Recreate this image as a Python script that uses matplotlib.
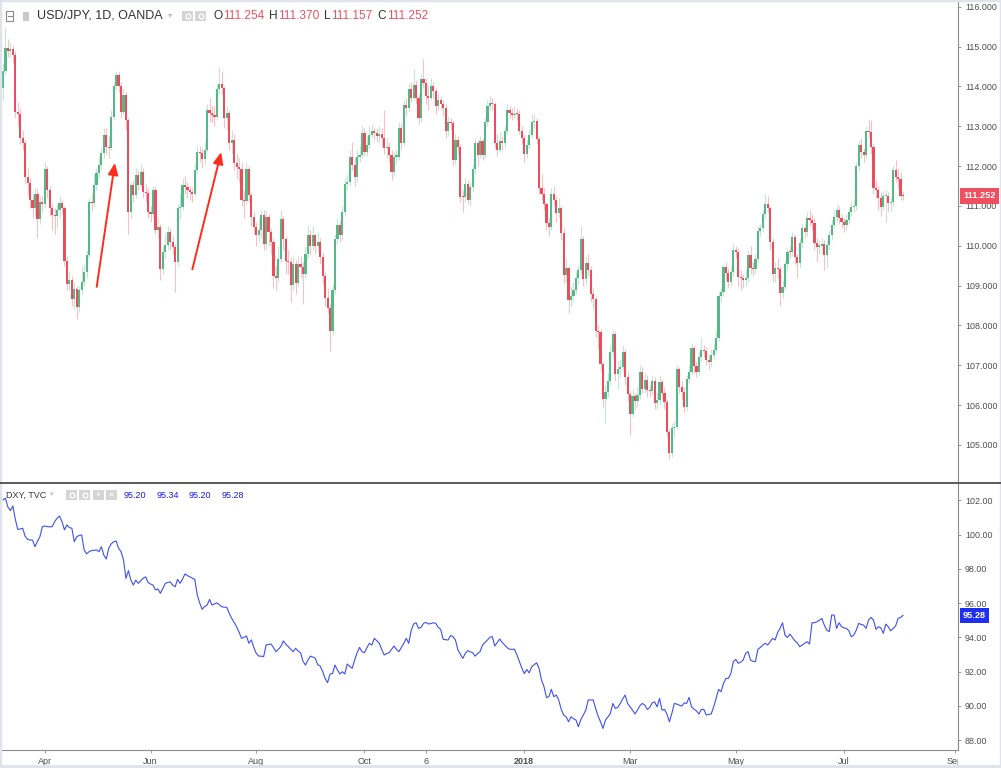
import numpy as np
import pandas as pd
import matplotlib
matplotlib.use('Agg')
import matplotlib.pyplot as plt
from matplotlib.patches import Rectangle
from matplotlib.lines import Line2D
from matplotlib.transforms import Bbox, TransformedBbox, blended_transform_factory

plt.rcParams['font.family'] = ['Liberation Sans', 'DejaVu Sans']

# ---- data (daily bars, 2017-03-09 .. 2018-08-03) ----
dates = pd.bdate_range('2017-03-09', '2018-08-03')

first_open = 113.96
usdjpy_close = [
    # Mar - May 2017
    114.38, 114.97, 114.90, 114.95, 114.78, 113.37, 113.30, 112.70, 112.57, 111.73,
    111.57, 111.15, 110.94, 111.31, 110.68, 111.10, 111.05, 111.94, 111.40, 110.94,
    110.77, 110.74, 110.89, 111.08, 110.94, 109.63, 109.05, 109.13, 108.67, 108.92,
    108.46, 108.88, 109.09, 109.34, 109.76, 111.10, 111.08, 111.52, 111.82, 112.03,
    112.32, 112.78, 112.49, 112.45, 113.24, 114.00, 114.29, 114.00, 113.37, 113.79,
    113.16, 110.85, 111.52, 111.27, 111.78, 111.52, 111.86, 111.36, 111.33, 110.85,
    110.81, 111.40, 110.39, 110.47,
    # Jun - Sep 2017
    109.42, 109.84, 110.01, 110.35, 110.10, 109.97, 109.59, 110.94, 110.98, 111.52,
    111.48, 111.40, 111.36, 111.31, 111.90, 112.36, 112.32, 112.17, 112.41, 113.41,
    113.33, 113.29, 113.24, 113.93, 114.06, 113.96, 113.20, 113.33, 112.57, 112.66,
    112.07, 111.99, 111.94, 111.15, 111.13, 111.94, 111.27, 110.73, 110.47, 110.28,
    110.39, 110.77, 110.05, 110.73, 110.35, 110.10, 109.23, 109.20, 109.68, 110.68,
    110.18, 109.62, 109.59, 109.01, 109.55, 109.07, 109.55, 109.47, 109.30, 109.80,
    110.26, 109.99, 110.26, 109.99,
    # Sep - Nov 2017
    110.10, 109.72, 109.25, 108.70, 108.45, 107.85, 108.90, 110.18, 110.52, 110.26,
    110.85, 111.56, 111.60, 112.24, 112.03, 111.73, 112.24, 112.28, 112.83, 112.36,
    112.53, 112.78, 112.87, 112.83, 112.75, 112.80, 112.70, 112.45, 112.48, 112.28,
    111.86, 112.24, 112.24, 112.95, 112.57, 113.54, 113.46, 113.93, 113.71, 114.04,
    113.71, 113.20, 114.19, 114.09, 113.75, 113.71, 114.02, 113.88, 113.50, 113.65,
    113.55, 113.46, 112.87, 113.10, 113.08, 112.15, 112.66, 112.48, 111.23, 111.22,
    111.56, 111.14, 111.48,
    # Nov 2017 - Feb 2018
    111.94, 112.57, 112.28, 112.62, 112.28, 113.10, 113.51, 113.58, 113.56, 112.57,
    112.41, 112.64, 112.57, 112.89, 113.40, 113.33, 113.29, 113.32, 113.30, 112.89,
    112.70, 112.30, 112.53, 112.77, 113.10, 113.12, 112.67, 111.46, 111.30, 111.06,
    110.56, 110.47, 111.31, 111.15, 110.83, 110.96, 110.32, 109.26, 109.43, 108.63,
    108.75, 108.90, 109.20, 109.38, 110.18, 109.17, 109.57, 109.40, 108.79, 108.66,
    107.87, 107.83, 107.03, 106.15, 106.32, 106.61, 107.33, 107.79, 106.78, 106.90,
    106.95, 107.33, 106.70, 106.28, 105.77, 106.24, 106.10,
    # Mar - Jun 2018
    106.25, 106.84, 106.40, 106.63, 106.38, 106.36, 106.60, 106.05, 106.13, 106.59,
    106.30, 106.09, 105.33, 104.79, 105.42, 105.45, 106.90, 106.46, 106.34, 105.96,
    106.65, 106.82, 107.43, 106.97, 106.84, 107.22, 107.38, 107.35, 107.13, 107.07,
    107.26, 107.38, 107.68, 108.74, 108.85, 109.46, 109.32, 109.10, 109.35, 109.89,
    109.85, 109.22, 109.18, 109.14, 109.18, 109.77, 109.43, 109.42, 109.68, 110.38,
    110.44, 110.80, 111.06, 110.94, 110.10, 109.29, 109.43, 109.42, 108.81, 108.97,
    109.54, 109.85, 109.84, 110.23,
    # Jun - Aug 2018
    109.73, 109.56, 110.06, 110.44, 110.35, 110.69, 110.65, 110.56, 110.06, 109.98,
    110.00, 110.05, 109.77, 110.02, 110.27, 110.52, 110.73, 110.91, 110.69, 110.60,
    110.52, 110.65, 110.85, 110.98, 111.00, 112.00, 112.53, 112.36, 112.27, 112.89,
    112.86, 112.48, 111.44, 111.40, 111.21, 110.98, 111.25, 111.26, 111.08, 111.10,
    111.90, 111.73, 111.67, 111.254, 111.252,
]
usdjpy_high = [
    114.60, 115.50, 115.20, 115.10, 115.05, 114.90, 113.60, 113.45, 112.90, 112.65,
    111.95, 111.70, 111.30, 111.45, 111.45, 111.25, 111.25, 112.10, 112.00, 111.50,
    111.05, 110.95, 111.05, 111.25, 111.15, 111.00, 109.75, 109.35, 109.25, 109.10,
    109.00, 109.00, 109.50, 109.55, 109.90, 111.20, 111.30, 111.80, 111.95, 112.25,
    112.45, 112.95, 112.95, 112.75, 113.40, 114.10, 114.37, 114.35, 114.10, 113.95,
    113.85, 113.20, 111.60, 111.65, 111.95, 111.90, 112.05, 111.95, 111.55, 111.45,
    111.00, 111.50, 111.50, 110.70,
    110.55, 110.00, 110.30, 110.50, 110.45, 110.25, 110.05, 111.05, 111.30, 111.70,
    111.75, 111.60, 111.50, 111.45, 112.05, 112.50, 112.50, 112.45, 112.60, 113.55,
    113.70, 113.50, 113.50, 114.05, 114.50, 114.40, 114.00, 113.50, 113.40, 112.90,
    112.80, 112.30, 112.20, 112.10, 111.40, 112.10, 112.00, 111.35, 110.85, 110.60,
    110.70, 110.90, 110.90, 110.90, 110.80, 110.45, 110.20, 109.50, 110.00, 110.90,
    110.75, 110.25, 109.90, 109.70, 109.75, 109.65, 109.75, 109.75, 109.60, 110.00,
    110.50, 110.40, 110.50, 110.30,
    110.35, 110.20, 109.85, 109.35, 108.95, 108.55, 109.05, 110.30, 110.70, 110.65,
    111.00, 111.70, 111.80, 112.40, 112.60, 112.20, 112.40, 112.50, 113.00, 112.95,
    112.75, 113.00, 113.05, 112.95, 112.95, 113.00, 112.95, 113.40, 112.70, 112.60,
    112.40, 112.35, 112.40, 113.10, 113.05, 113.65, 113.70, 114.05, 114.10, 114.45,
    114.15, 113.80, 114.30, 114.70, 114.20, 114.00, 114.20, 114.10, 113.95, 113.80,
    113.75, 113.65, 113.55, 113.25, 113.20, 113.15, 112.80, 112.75, 112.55, 111.40,
    111.70, 111.65, 111.60,
    112.05, 112.70, 112.65, 112.75, 112.70, 113.20, 113.65, 113.75, 113.70, 113.60,
    112.80, 112.85, 112.75, 113.00, 113.55, 113.50, 113.45, 113.50, 113.45, 113.40,
    113.00, 112.80, 112.65, 112.90, 113.30, 113.30, 113.20, 112.75, 111.80, 111.45,
    111.10, 110.70, 111.45, 111.50, 111.25, 111.20, 111.00, 110.45, 109.70, 109.50,
    109.00, 109.10, 109.35, 109.50, 110.50, 110.25, 109.75, 109.80, 109.50, 108.95,
    108.75, 108.00, 107.90, 107.10, 106.50, 106.80, 107.50, 107.90, 107.85, 107.10,
    107.15, 107.50, 107.40, 106.85, 106.35, 106.40, 106.30,
    106.45, 107.00, 106.95, 106.80, 106.75, 106.50, 106.75, 106.70, 106.30, 106.75,
    106.65, 106.45, 106.15, 105.40, 105.55, 105.60, 107.00, 106.95, 106.60, 106.45,
    106.75, 107.00, 107.55, 107.50, 107.10, 107.35, 107.70, 107.50, 107.45, 107.25,
    107.40, 107.55, 107.85, 108.85, 108.95, 109.55, 109.60, 109.45, 109.50, 110.05,
    110.00, 109.95, 109.40, 109.30, 109.40, 109.90, 110.00, 109.60, 109.80, 110.50,
    110.55, 110.90, 111.30, 111.25, 111.00, 110.20, 109.60, 109.70, 109.50, 109.15,
    109.65, 109.95, 110.00, 110.35,
    110.30, 109.80, 110.20, 110.55, 110.55, 110.85, 110.90, 110.80, 110.70, 110.20,
    110.15, 110.20, 110.15, 110.15, 110.40, 110.65, 110.90, 111.05, 111.00, 110.80,
    110.70, 110.80, 110.95, 111.10, 111.15, 112.10, 112.65, 112.70, 112.45, 113.00,
    113.15, 113.15, 112.55, 111.65, 111.50, 111.35, 111.40, 111.40, 111.35, 111.20,
    112.00, 112.15, 111.95, 111.85, 111.370,
]
usdjpy_low = [
    113.65, 114.30, 114.75, 114.75, 114.60, 113.20, 113.00, 112.55, 112.40, 111.55,
    111.30, 110.95, 110.70, 110.75, 110.20, 110.55, 110.85, 110.95, 111.20, 110.75,
    110.40, 110.30, 110.45, 110.70, 110.80, 109.50, 108.90, 108.90, 108.50, 108.40,
    108.15, 108.35, 108.80, 109.00, 109.20, 109.70, 110.90, 111.00, 111.40, 111.70,
    111.90, 112.20, 112.30, 112.20, 112.40, 113.15, 113.90, 113.85, 113.20, 113.30,
    112.90, 110.30, 110.70, 111.10, 111.20, 111.40, 111.45, 111.20, 111.10, 110.70,
    110.60, 110.70, 110.30, 110.20,
    109.15, 109.30, 109.70, 109.90, 109.90, 109.80, 108.85, 109.50, 110.70, 110.90,
    111.30, 111.20, 111.15, 111.10, 111.25, 111.80, 112.10, 111.95, 112.05, 112.35,
    113.10, 113.10, 113.00, 113.15, 113.80, 113.80, 112.95, 112.90, 112.40, 112.30,
    111.90, 111.70, 111.60, 111.00, 110.70, 111.05, 111.10, 110.50, 110.30, 110.00,
    110.10, 110.20, 109.90, 109.90, 110.00, 109.80, 108.95, 108.90, 109.10, 109.60,
    109.90, 109.30, 109.30, 108.60, 108.90, 108.80, 109.00, 109.20, 108.55, 109.20,
    109.70, 109.80, 109.90, 109.80,
    109.85, 109.55, 109.05, 108.50, 108.30, 107.35, 107.75, 108.80, 110.05, 110.10,
    110.15, 110.75, 111.40, 111.50, 111.90, 111.50, 111.60, 112.10, 112.20, 112.25,
    112.25, 112.45, 112.70, 112.65, 112.60, 112.60, 112.50, 112.30, 112.20, 112.10,
    111.65, 111.75, 112.05, 112.15, 112.40, 112.50, 113.25, 113.35, 113.60, 113.65,
    113.55, 113.05, 113.10, 113.95, 113.55, 113.40, 113.65, 113.70, 113.30, 113.40,
    113.40, 113.25, 112.70, 112.75, 112.90, 112.00, 112.05, 112.30, 111.10, 110.85,
    111.10, 111.05, 111.00,
    111.35, 111.80, 112.00, 112.20, 112.15, 112.20, 113.00, 113.40, 113.40, 112.45,
    112.25, 112.35, 112.40, 112.45, 112.80, 113.20, 113.15, 113.20, 113.15, 112.80,
    112.55, 112.10, 112.20, 112.45, 112.70, 112.95, 112.55, 111.30, 111.15, 110.90,
    110.40, 110.25, 110.40, 111.00, 110.60, 110.70, 110.15, 109.05, 109.10, 108.30,
    108.50, 108.60, 108.80, 109.05, 109.30, 109.00, 109.05, 109.25, 108.60, 108.45,
    107.70, 107.40, 106.85, 105.95, 105.55, 106.20, 106.50, 107.20, 106.60, 106.40,
    106.70, 106.85, 106.50, 106.10, 105.25, 105.70, 105.90,
    105.95, 106.15, 106.30, 106.30, 106.20, 106.20, 106.25, 105.90, 105.90, 106.00,
    106.15, 105.90, 105.20, 104.64, 104.70, 105.20, 105.40, 106.30, 106.15, 105.80,
    105.85, 106.55, 106.75, 106.80, 106.70, 106.75, 107.10, 107.20, 107.00, 106.90,
    106.95, 107.15, 107.30, 107.60, 108.60, 108.75, 109.15, 108.95, 109.00, 109.25,
    109.70, 109.00, 108.90, 108.95, 109.00, 109.10, 109.30, 109.25, 109.30, 109.60,
    110.25, 110.35, 110.70, 110.85, 109.90, 109.10, 109.10, 109.20, 108.50, 108.70,
    108.90, 109.40, 109.70, 109.75,
    109.55, 109.20, 109.45, 109.95, 110.20, 110.25, 110.50, 110.40, 109.90, 109.60,
    109.80, 109.85, 109.40, 109.45, 109.90, 110.15, 110.45, 110.60, 110.55, 110.45,
    110.35, 110.40, 110.55, 110.75, 110.85, 110.90, 111.90, 112.20, 112.10, 112.20,
    112.70, 112.30, 111.30, 111.20, 110.90, 110.75, 110.90, 110.60, 110.85, 110.85,
    111.00, 111.60, 111.45, 111.15, 111.157,
]

dxy_close = [
    102.02, 102.12, 101.60, 101.40, 101.67, 100.90, 100.30, 100.32, 100.37, 99.90,
    99.72, 99.68, 99.68, 99.29, 99.60, 99.87, 100.45, 100.50, 100.46, 100.45,
    100.46, 100.75, 100.95, 101.08, 100.75, 100.27, 100.56, 100.40, 100.37, 99.58,
    99.87, 99.95, 99.97, 99.10, 98.87, 99.00, 99.06, 99.08, 99.10, 99.00,
    99.29, 98.80, 98.57, 99.20, 99.45, 99.58, 99.62, 99.20, 99.00, 98.52,
    97.44, 97.89, 97.34, 97.05, 97.34, 97.15, 97.30, 97.45, 97.53, 97.20,
    97.11, 97.05, 96.76, 96.82, 96.57, 96.85, 97.15, 97.20, 97.24, 97.05,
    96.95, 97.38, 97.15, 97.40, 97.70, 97.60, 97.53, 97.45, 97.38, 96.47,
    96.00, 95.63, 95.80, 95.88, 96.21, 95.88, 95.95, 96.01, 95.90, 95.78,
    95.76, 95.75, 95.40, 95.11, 94.86, 94.62, 94.30, 93.94, 94.00, 94.08,
    93.65, 93.85, 93.40, 93.06, 92.90, 92.90, 92.87, 93.55, 93.58, 93.61,
    93.40, 93.16, 93.30, 93.46, 93.79, 93.60, 93.46, 93.30, 93.16, 93.36,
    93.20, 93.10, 92.60, 92.38, 92.67, 92.90, 92.85, 92.77, 92.40, 92.32,
    92.00, 91.60, 91.35, 91.86, 91.88, 92.38, 92.09, 91.86, 91.99, 91.86,
    92.44, 92.30, 92.19, 92.67, 93.10, 93.41, 93.16, 93.10, 93.40, 93.65,
    93.55, 93.94, 93.80, 93.65, 93.30, 92.97, 93.05, 93.10, 93.30, 93.49,
    93.30, 93.16, 93.40, 93.65, 93.94, 93.65, 94.40, 94.78, 94.85, 94.52,
    94.58, 94.81, 94.87, 94.78, 94.80, 94.85, 94.81, 94.58, 94.46, 93.88,
    93.86, 93.84, 94.10, 94.04, 93.84, 93.26, 93.02, 92.77, 93.06, 93.22,
    93.15, 93.10, 92.90, 93.05, 93.16, 93.55, 93.70, 93.84, 94.00, 94.04,
    93.49, 93.70, 93.90, 93.70, 93.55, 93.40, 93.30, 93.30, 93.30, 92.97,
    92.58, 92.20, 91.88, 92.12, 91.92, 92.28, 92.40, 92.51, 92.19, 91.50,
    91.12, 90.49, 90.53, 90.96, 90.53, 90.63, 90.34, 89.80, 89.46, 89.36,
    89.07, 89.36, 89.25, 89.17, 88.78, 89.20, 89.46, 89.75, 90.34, 90.34,
    90.34, 89.85, 89.40, 89.07, 88.68, 89.17, 89.35, 89.56, 90.14, 89.85,
    89.90, 90.14, 90.40, 90.63, 90.14, 89.95, 89.75, 89.52, 89.75, 90.00,
    90.14, 90.04, 89.79, 89.90, 90.17, 90.23, 89.94, 90.43, 89.75, 89.79,
    89.52, 89.07, 89.56, 90.14, 90.10, 90.04, 89.98, 90.17, 90.14, 90.49,
    89.94, 89.80, 89.71, 89.52, 89.79, 89.79, 89.46, 89.50, 89.52, 89.94,
    90.43, 90.96, 90.82, 91.31, 91.60, 91.60, 91.89, 92.58, 92.71, 92.48,
    92.55, 92.67, 93.06, 93.16, 92.67, 92.60, 92.58, 93.30, 93.41, 93.55,
    93.65, 93.55, 93.74, 93.94, 93.84, 94.27, 94.52, 94.85, 94.13, 93.99,
    94.19, 93.99, 93.80, 93.68, 93.45, 93.55, 93.65, 93.74, 93.61, 94.85,
    94.85, 94.91, 95.00, 95.10, 94.71, 94.42, 94.33, 95.30, 95.30, 94.52,
    94.85, 94.62, 94.55, 94.52, 94.38, 94.03, 94.13, 94.42, 94.81, 94.75,
    94.71, 94.52, 95.01, 95.16, 95.01, 94.46, 94.62, 94.55, 94.23, 94.77,
    94.62, 94.38, 94.52, 94.66, 95.10, 95.16, 95.28,
]
dxy_header = ['95.20', '95.34', '95.20', '95.28']
usdjpy_header = [('O', '111.254'), ('H', '111.370'), ('L', '111.157'), ('C', '111.252')]

tick_dates = ['2017-04-03', '2017-06-01', '2017-08-01', '2017-10-02', '2017-11-06',
              '2018-01-01', '2018-03-01', '2018-05-01', '2018-07-02', '2018-09-03']
tick_labels = ['Apr', 'Jun', 'Aug', 'Oct', '6', '2018', 'Mar', 'May', 'Jul', 'Sep']

n = len(dates)
assert len(usdjpy_close) == n and len(usdjpy_high) == n and len(usdjpy_low) == n, \
    (n, len(usdjpy_close), len(usdjpy_high), len(usdjpy_low))
assert len(dxy_close) == n, len(dxy_close)

# ---- layout (pixels of the 1001x768 screenshot) ----
W, H = 1001, 768
UP, DOWN = '#53b987', '#eb4d5c'
TXT = '#333333'


def fx(px):
    return px / W


def fy(py):
    return 1 - py / H


fig = plt.figure(figsize=(W / 100, H / 100), dpi=100)
fig.patch.set_facecolor('white')

ax1 = fig.add_axes([0, fy(482), fx(958), 482 / H])
ax2 = fig.add_axes([0, fy(750), fx(958), (750 - 484) / H])

x = np.arange(n)
start = np.datetime64(dates[0].date())
tick_pos = [int(np.busday_count(start, np.datetime64(d))) for d in tick_dates]
xlim = (-3 / 2.459, (958 - 3) / 2.459)

c = np.array(usdjpy_close)
o = np.r_[first_open, c[:-1]]
hi = np.array(usdjpy_high)
lo = np.array(usdjpy_low)
up = c >= o

# candles: faint wicks, solid bodies
wick_cols = [(0.325, 0.725, 0.53, 0.35) if u else (0.92, 0.30, 0.36, 0.35) for u in up]
ax1.vlines(x, lo, hi, colors=wick_cols, linewidth=0.8, zorder=1)
body_h = np.maximum(np.abs(c - o), 0.03)
ax1.bar(x, body_h, bottom=np.minimum(o, c), width=0.88,
        color=np.where(up, UP, DOWN), linewidth=0, zorder=2)

# hand-drawn arrows
for (x0, y0), (x1, y1) in [((38.1, 108.97), (45.5, 112.08)), ((77.0, 109.41), (88.7, 112.35))]:
    ax1.annotate('', xy=(x1, y1), xytext=(x0, y0),
                 arrowprops=dict(arrowstyle='-|>,head_length=0.7,head_width=0.3',
                                 color='#ff2b1c', lw=1.4, shrinkA=0, shrinkB=0))

ax2.plot(x, dxy_close, color='#3f4ff0', lw=0.8)

ax1.set_ylim(104.07, 116.17)
ax2.set_ylim(87.42, 102.95)
ax1.set_yticks(np.arange(105, 117))
ax1.set_yticklabels([f'{v:.3f}' for v in np.arange(105, 117)])
ax2.set_yticks(np.arange(88, 103, 2))
ax2.set_yticklabels([f'{v:.2f}' for v in np.arange(88, 103, 2)])

for ax in (ax1, ax2):
    ax.set_facecolor('white')
    ax.set_xlim(*xlim)
    for s in ('top', 'left', 'bottom'):
        ax.spines[s].set_visible(False)
    ax.spines['right'].set_color('#8c8c8c')
    ax.spines['right'].set_linewidth(0.8)
    ax.yaxis.tick_right()
    ax.tick_params(axis='y', length=2.5, width=0.6, color='#8c8c8c',
                   labelsize=6.4, labelcolor='#4d4d4d', pad=2.5)

ax1.tick_params(axis='x', bottom=False, labelbottom=False)
ax2.spines['bottom'].set_visible(True)
ax2.spines['bottom'].set_color('#8c8c8c')
ax2.spines['bottom'].set_linewidth(0.8)
ax2.set_xticks(tick_pos)
ax2.set_xticklabels(tick_labels)
ax2.tick_params(axis='x', length=2.5, width=0.6, color='#8c8c8c',
                labelsize=6.5, labelcolor='#4d4d4d', pad=2.5)
clip = TransformedBbox(Bbox.from_extents(0, 0, fx(958), 1), fig.transFigure)
for lbl in ax2.get_xticklabels():
    lbl.set_clip_box(clip)
    lbl.set_clip_on(True)
    if lbl.get_text() == '2018':
        lbl.set_fontweight('bold')

# last-value tags on the price scales
tr1 = blended_transform_factory(ax1.transAxes, ax1.transData)
ax1.text(1.0 + 5 / 958, c[-1], f'{c[-1]:.3f}', transform=tr1, ha='left', va='center',
         fontsize=6.6, color='white', fontweight='bold', clip_on=False,
         bbox=dict(boxstyle='square,pad=0.35', fc='#ef5060', ec='none'))
tr2 = blended_transform_factory(ax2.transAxes, ax2.transData)
ax2.text(1.0 + 5 / 958, dxy_close[-1], f'{dxy_close[-1]:.2f}', transform=tr2, ha='left',
         va='center', fontsize=6.6, color='white', fontweight='bold', clip_on=False,
         bbox=dict(boxstyle='square,pad=0.35', fc='#1f2ff0', ec='none'))

# pane separator and outer frame
fig.add_artist(Line2D([0, 1], [fy(483), fy(483)], transform=fig.transFigure,
                      color='#4d4d4d', lw=1.3))
fig.add_artist(Rectangle((0, 0), 1, 1, transform=fig.transFigure, fill=False,
                         ec='#e0e3ea', lw=2.5))
fig.add_artist(Line2D([0, 1], [fy(766), fy(766)], transform=fig.transFigure,
                      color='#e0e3ea', lw=2))

renderer = fig.canvas.get_renderer()


def text_run(items, x0, y, size, gap_after):
    xp = x0
    for s, col, bold in items:
        t = fig.text(fx(xp), fy(y), s, color=col, fontsize=size, va='center', ha='left',
                     fontweight='bold' if bold else 'normal')
        xp += t.get_window_extent(renderer).width + gap_after.get(s, 0)
    return xp


def icon_box(x0, y0, w, h, glyph):
    fig.add_artist(Rectangle((fx(x0), fy(y0 + h)), w / W, h / H, transform=fig.transFigure,
                             fc='#d5d5d5', ec='none'))
    cx, cy = fx(x0 + w / 2), fy(y0 + h / 2)
    if glyph == 'o':
        fig.add_artist(Line2D([cx], [cy], marker='o', ms=3.5, mfc='none', mec='white',
                              mew=0.9, transform=fig.transFigure))
    else:
        fig.text(cx, cy, glyph, color='white', fontsize=6, ha='center', va='center',
                 fontweight='bold')


# header of the main pane
fig.add_artist(Rectangle((fx(6), fy(21)), 7 / W, 10 / H, transform=fig.transFigure,
                         fill=False, ec='#8a8a8a', lw=0.8))
fig.add_artist(Line2D([fx(7.5), fx(11.5)], [fy(16), fy(16)], transform=fig.transFigure,
                      color='#8a8a8a', lw=0.8))
fig.add_artist(Rectangle((fx(23), fy(21)), 6 / W, 9 / H, transform=fig.transFigure,
                         fc='#c9c9c9', ec='none'))
fig.text(fx(37), fy(16), 'USD/JPY, 1D, OANDA', color=TXT, fontsize=9, va='center')
fig.text(fx(168), fy(16), '▾', color='#bdbdbd', fontsize=6, va='center')
icon_box(182, 11, 11, 10, 'o')
icon_box(195, 11, 11, 10, 'o')
items = []
gaps = {}
for k, v in usdjpy_header:
    items += [(k, TXT, False), (v, '#ef5060', False)]
    gaps[k] = 0.5
    gaps[v] = 5
text_run(items, 213, 16, 8.6, gaps)

# header of the DXY pane
fig.text(fx(6), fy(495), 'DXY, TVC', color=TXT, fontsize=6.5, va='center')
fig.text(fx(50), fy(495), '▾', color='#bdbdbd', fontsize=5, va='center')
for i, g in enumerate(['o', 'o', '+', '×']):
    icon_box(66 + 13.3 * i, 490, 11, 10, g)
text_run([(v, '#1a1aee', False) for v in dxy_header], 124, 495, 6.5,
         {v: 10 for v in dxy_header})

fig.savefig('out.png', dpi=100)
